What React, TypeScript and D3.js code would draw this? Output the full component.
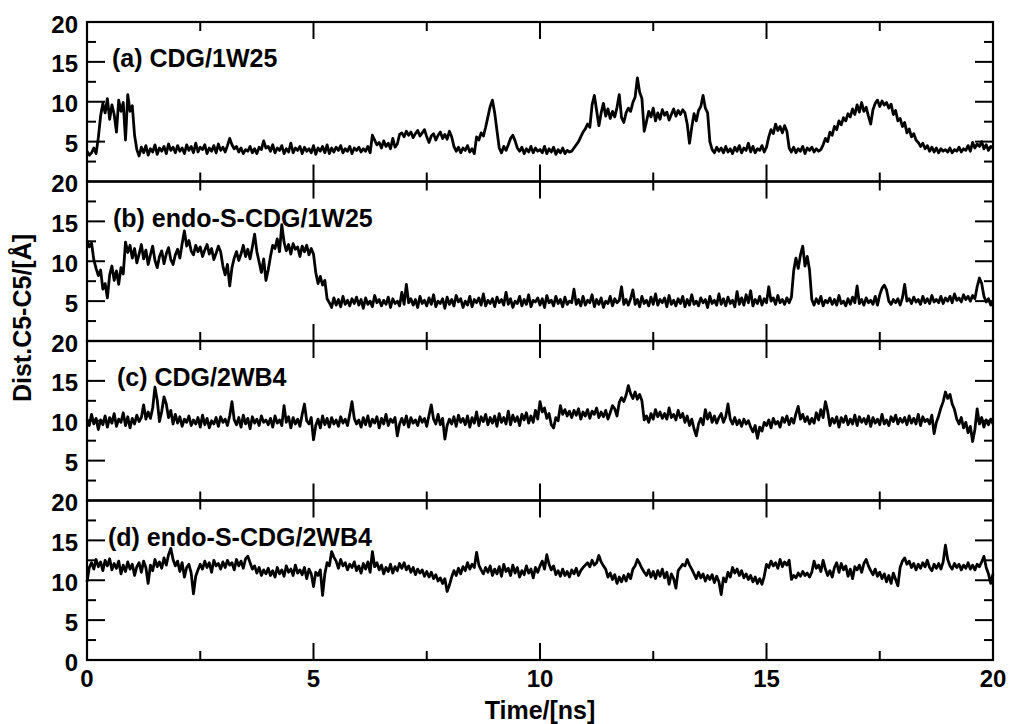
import React from "react";
import * as d3 from "d3";

// Sampling step in ns (each value below is one sample)
const STEP = 0.05;

const panelLabels = ["(a) CDG/1W25", "(b) endo-S-CDG/1W25", "(c) CDG/2WB4", "(d) endo-S-CDG/2WB4"];
const xTicksMajor = [0, 5, 10, 15, 20];
const xTicksMinor = [2.5, 7.5, 12.5, 17.5];
const yTicksMajor = [5, 10, 15];
const yTicksMinor = [2.5, 7.5, 12.5, 17.5];
const yTickLabels = [0, 5, 10, 15, 20];

const seriesA = [
  3.8, 3.3, 3.6, 4.2, 3.5, 5.5, 8.2, 9.8, 8.6, 10.4, 7.8, 9.6, 8.4, 6.2, 10.2, 8.8, 9.9, 5.2, 10.9, 8.8,
  9.5, 5.8, 4.0, 3.2, 4.3, 3.6, 4.5, 3.3, 4.1, 3.7, 4.6, 3.4, 4.2, 3.8, 4.4, 3.5, 4.7, 3.9, 4.3, 3.6,
  4.5, 3.8, 4.2, 3.5, 4.6, 3.9, 4.4, 3.6, 4.8, 3.7, 4.3, 4.0, 4.6, 3.5, 4.2, 3.8, 4.5, 3.6, 4.7, 3.9,
  4.3, 3.7, 4.5, 5.4, 4.6, 4.1, 4.4, 3.7, 4.2, 3.5, 4.0, 3.8, 4.4, 3.6, 4.1, 3.5, 4.3, 4.0, 5.1, 4.2,
  4.4, 3.8, 4.6, 3.6, 4.2, 3.9, 4.5, 3.5, 4.1, 3.7, 4.8, 3.6, 4.2, 3.9, 4.4, 3.5, 4.3, 3.8, 4.1, 3.6,
  4.5, 3.4, 4.2, 3.8, 4.4, 3.6, 4.6, 3.5, 4.2, 3.7, 4.3, 3.9, 4.5, 3.6, 4.1, 3.8, 4.4, 3.5, 4.2, 3.9,
  4.3, 3.7, 4.1, 3.8, 4.4, 3.6, 5.8, 5.2, 4.6, 4.9, 4.2, 5.1, 4.4, 4.8, 4.1, 5.4, 4.3, 4.7, 5.9, 6.1,
  5.6, 6.3, 5.8, 6.2, 5.5, 6.0, 6.4, 5.7, 6.1, 6.5, 5.6, 4.9, 5.7, 6.0, 5.2, 5.8, 6.2, 5.4, 5.9, 5.3,
  6.3, 5.6, 4.4, 3.8, 4.3, 3.6, 4.2, 3.9, 4.5, 3.7, 4.1, 3.5, 5.6, 5.2, 6.1, 5.7, 6.8, 8.1, 9.4, 10.2,
  8.6, 6.4, 4.2, 3.6, 4.4, 3.9, 4.6, 5.4, 5.8, 5.1, 4.2, 3.8, 4.3, 3.5, 4.1, 3.7, 4.4, 3.6, 4.2, 3.8,
  4.0, 3.6, 4.4, 3.5, 4.1, 3.7, 4.3, 3.4, 4.0, 3.6, 4.2, 3.5, 3.9, 3.7, 3.8, 4.2, 4.6, 5.0, 5.6, 6.2,
  6.6, 7.2, 6.8, 9.6, 10.8, 8.9, 7.0, 8.6, 9.8, 8.2, 9.1, 7.9, 8.8, 8.1, 9.3, 10.9, 8.0, 7.4, 8.6, 9.2,
  8.8, 9.9, 10.6, 13.0, 11.2, 10.4, 6.3, 7.5, 8.8, 8.1, 9.2, 7.6, 8.6, 7.8, 9.0, 8.3, 8.7, 7.7, 8.4, 9.1,
  8.2, 8.9, 8.4, 9.0, 8.6, 7.2, 4.8, 6.8, 8.5, 7.6, 8.9, 9.4, 10.8, 9.2, 8.6, 5.0, 4.0, 3.6, 4.3, 3.8,
  4.2, 3.6, 4.4, 3.7, 4.1, 3.5, 4.3, 3.8, 4.5, 3.6, 4.2, 3.9, 4.8, 3.7, 4.4, 3.6, 4.1, 3.9, 4.5, 3.7,
  4.3, 5.6, 6.5, 6.0, 7.2, 6.4, 6.9, 6.1, 7.0, 6.3, 4.2, 3.7, 4.3, 3.6, 4.1, 3.8, 4.4, 3.5, 4.2, 3.9,
  4.3, 3.7, 4.1, 3.8, 4.0, 4.6, 5.4, 5.0, 6.2, 5.8, 6.9, 6.5, 7.6, 7.1, 8.0, 7.6, 8.5, 8.1, 9.1, 8.4,
  9.6, 8.7, 9.9, 8.8, 9.3, 8.2, 7.2, 9.0, 9.8, 10.2, 9.4, 10.1, 9.6, 9.9, 9.2, 9.7, 8.4, 8.9, 7.6, 7.9,
  6.9, 7.4, 6.1, 6.6, 5.6, 6.0, 5.2, 4.9, 4.4, 4.8, 4.1, 4.5, 3.8, 4.3, 3.7, 4.2, 3.6, 4.1, 3.8, 4.0,
  3.7, 4.2, 3.6, 4.0, 3.8, 4.3, 3.7, 4.1, 3.9, 4.5, 3.8, 4.9, 4.2, 4.7, 4.4, 5.0, 4.1, 4.6, 3.9, 4.4,
  4.2,
];

const seriesB = [
  12.6, 11.8, 12.3, 10.2, 9.1, 8.2, 8.9, 6.5, 7.2, 5.4, 8.3, 9.4, 7.6, 8.8, 7.1, 9.2, 8.4, 12.4, 11.1, 12.0,
  10.4, 11.6, 9.8, 10.9, 12.1, 10.3, 11.4, 9.6, 10.8, 11.9, 10.1, 9.2, 10.6, 11.3, 9.7, 10.9, 11.7, 10.2, 9.6, 10.8,
  11.5, 10.4, 12.2, 13.8, 11.9, 12.6, 11.3, 10.8, 12.0, 11.2, 11.8, 10.6, 11.4, 12.1, 10.9, 11.6, 10.2, 11.0, 11.9, 11.2,
  9.4, 8.3, 9.6, 6.9, 9.2, 10.4, 11.2, 10.1, 10.9, 12.0, 10.6, 11.5, 10.3, 11.8, 13.4, 11.2, 9.9, 8.6, 10.3, 7.6,
  8.9, 10.6, 12.0, 11.6, 12.8, 11.2, 14.6, 12.4, 11.3, 12.1, 10.9, 12.2, 11.5, 11.8, 10.6, 11.9, 11.2, 12.0, 10.8, 11.6,
  10.9, 8.6, 7.2, 8.1, 7.0, 7.6, 5.3, 4.8, 4.2, 5.4, 4.5, 5.2, 4.3, 5.6, 4.6, 5.1, 4.4, 5.3, 4.7, 5.5,
  4.5, 5.2, 4.1, 5.4, 4.6, 5.0, 4.3, 5.7, 4.8, 5.2, 4.4, 5.1, 4.6, 5.5, 4.2, 5.3, 4.7, 5.0, 4.4, 6.1,
  4.6, 7.1, 4.8, 5.3, 4.5, 5.2, 4.2, 5.6, 4.7, 5.1, 4.4, 5.4, 4.6, 5.8, 4.3, 5.0, 4.7, 5.3, 4.1, 5.5,
  4.6, 5.2, 4.4, 5.7, 4.9, 5.3, 4.2, 5.0, 4.5, 5.6, 4.3, 5.2, 4.8, 5.4, 4.5, 5.9, 4.4, 5.1, 4.7, 5.3,
  4.3, 5.5, 4.8, 5.2, 4.5, 6.1, 4.6, 5.3, 4.2, 5.0, 4.7, 5.6, 4.4, 5.2, 4.6, 5.8, 4.3, 5.1, 4.9, 5.4,
  4.5, 5.3, 4.2, 5.7, 4.8, 5.1, 4.4, 5.6, 4.7, 5.2, 4.3, 5.5, 4.6, 5.0, 4.8, 6.5, 4.6, 5.2, 4.4, 5.6,
  4.5, 5.1, 4.8, 5.8, 4.3, 5.2, 4.6, 5.4, 4.2, 5.0, 4.7, 5.6, 4.4, 5.3, 4.8, 5.1, 6.8, 4.6, 5.2, 4.5,
  5.3, 6.4, 4.6, 5.2, 4.3, 5.6, 4.7, 5.1, 4.4, 5.5, 4.6, 5.9, 4.5, 5.2, 4.8, 5.4, 4.3, 5.7, 4.6, 5.1,
  4.4, 5.3, 4.7, 5.6, 4.3, 5.2, 4.5, 5.8, 4.6, 5.0, 4.4, 5.4, 4.8, 5.2, 4.2, 5.6, 4.7, 5.1, 4.5, 5.9,
  4.6, 5.3, 4.4, 5.5, 4.7, 5.1, 4.3, 6.2, 4.6, 5.4, 4.5, 5.8, 4.8, 6.3, 4.4, 5.2, 4.7, 5.6, 4.5, 5.3,
  4.8, 6.8, 5.0, 5.4, 4.6, 5.7, 4.8, 5.2, 4.6, 5.4, 4.8, 5.5, 8.8, 10.4, 9.1, 10.8, 11.9, 9.4, 10.6, 8.9,
  5.2, 4.5, 5.3, 4.7, 5.6, 4.4, 5.1, 4.8, 5.4, 4.6, 5.2, 4.5, 5.7, 4.7, 5.0, 4.4, 5.3, 4.6, 5.5, 4.8,
  6.9, 4.7, 5.2, 4.5, 5.4, 4.8, 5.1, 4.6, 5.6, 4.5, 5.8, 6.6, 7.0, 6.4, 5.0, 4.6, 5.2, 4.8, 5.3, 4.5,
  5.4, 7.1, 5.0, 5.3, 4.7, 5.5, 4.9, 5.2, 4.6, 5.6, 4.8, 5.3, 4.7, 5.7, 4.9, 5.2, 4.8, 5.6, 4.7, 5.4,
  5.0, 5.6, 4.8, 5.9, 5.1, 5.4, 4.9, 5.8, 5.2, 5.6, 5.0, 5.7, 5.3, 6.8, 7.9, 7.2, 5.6, 4.9, 5.3, 4.5,
  5.0,
];

const seriesC = [
  10.2, 9.4, 10.8, 9.6, 10.3, 8.9, 10.1, 9.5, 10.6, 9.2, 10.4, 9.7, 10.9, 9.3, 10.2, 9.8, 11.0, 9.4, 10.5, 9.1,
  10.3, 9.6, 10.7, 9.9, 10.4, 12.0, 10.2, 11.1, 10.3, 11.6, 14.2, 12.6, 9.9, 11.2, 13.0, 12.1, 10.4, 11.3, 9.6, 10.8,
  9.7, 10.5, 9.3, 10.2, 9.8, 10.6, 9.4, 10.1, 9.6, 10.4, 9.2, 10.7, 9.5, 10.3, 9.1, 10.0, 9.6, 10.4, 9.3, 10.5,
  9.8, 10.2, 9.4, 10.6, 12.4, 10.1, 9.5, 10.4, 9.2, 10.7, 9.6, 10.3, 9.0, 10.5, 9.7, 10.2, 9.4, 10.6, 9.8, 10.1,
  9.5, 10.3, 9.2, 10.6, 9.7, 10.1, 9.4, 11.9, 9.8, 10.5, 9.1, 10.4, 9.6, 10.2, 9.3, 10.8, 12.1, 10.0, 9.6, 10.4,
  7.6, 9.4, 10.2, 9.1, 10.6, 9.5, 10.3, 9.2, 10.4, 9.6, 10.1, 9.3, 10.5, 9.7, 10.2, 9.4, 10.8, 12.4, 10.3, 9.6,
  10.1, 9.2, 10.4, 9.5, 10.6, 9.3, 10.2, 9.7, 10.5, 9.1, 10.3, 9.6, 10.8, 9.4, 10.2, 9.8, 10.4, 8.1, 9.6, 10.3,
  9.5, 10.6, 9.2, 10.4, 9.7, 10.1, 9.4, 10.5, 9.8, 10.3, 9.3, 10.7, 12.0, 10.2, 9.6, 10.8, 9.5, 10.3, 7.7, 9.4,
  10.2, 9.6, 10.5, 9.3, 10.7, 9.8, 10.3, 9.5, 10.6, 9.2, 10.4, 9.7, 11.1, 9.4, 10.5, 9.9, 10.8, 9.5, 10.4, 9.7,
  10.6, 9.3, 10.9, 9.8, 10.4, 9.6, 11.2, 9.5, 10.7, 9.9, 10.5, 9.4, 10.8, 10.1, 11.0, 9.7, 10.6, 9.8, 11.3, 10.2,
  12.4, 11.1, 11.6, 10.3, 10.9, 9.5, 9.1, 10.4, 10.0, 11.9, 10.8, 11.4, 10.6, 11.2, 10.4, 11.3, 10.7, 11.5, 10.2, 11.1,
  10.6, 11.4, 10.3, 11.2, 10.8, 11.6, 10.4, 11.1, 10.5, 11.3, 10.2, 11.0, 11.9, 11.5, 10.6, 12.3, 12.9, 12.4, 13.2, 14.4,
  13.4, 12.8, 13.6, 12.7, 13.3, 12.5, 10.1, 10.6, 9.8, 10.9, 10.2, 11.4, 10.5, 11.1, 10.3, 10.9, 10.2, 11.6, 10.4, 10.8,
  10.1, 11.3, 10.4, 10.9, 9.8, 10.6, 9.4, 10.2, 9.0, 8.1, 9.6, 10.3, 9.5, 11.4, 10.2, 11.0, 9.8, 10.6, 9.7, 10.4,
  10.9, 9.8, 10.5, 12.1, 10.2, 9.6, 10.4, 9.5, 10.1, 9.3, 10.2, 9.6, 10.0, 9.2, 8.6, 9.4, 7.8, 9.2, 8.7, 9.8,
  9.4, 10.1, 9.1, 10.3, 9.6, 9.9, 9.2, 10.4, 9.8, 10.6, 9.5, 10.3, 9.7, 10.9, 11.8, 10.2, 10.8, 9.9, 10.5, 9.6,
  10.3, 9.7, 11.0, 10.1, 11.4, 10.4, 12.4, 11.2, 9.4, 10.3, 9.7, 10.5, 9.2, 10.4, 9.8, 10.6, 9.5, 10.2, 9.6, 10.7,
  9.4, 10.5, 9.8, 10.3, 9.6, 10.6, 9.3, 10.4, 9.7, 10.2, 9.5, 10.8, 9.6, 10.1, 9.4, 10.5, 9.9, 10.7, 9.6, 10.3,
  9.8, 10.4, 9.5, 10.6, 9.7, 10.3, 9.6, 10.8, 9.4, 10.5, 9.9, 10.2, 9.6, 10.7, 8.4, 9.8, 10.6, 11.6, 12.4, 13.6,
  12.8, 13.3, 12.1, 11.4, 10.2, 9.6, 10.4, 9.1, 9.8, 8.5, 9.3, 7.4, 8.9, 11.5, 9.6, 10.4, 9.2, 10.1, 9.5, 10.2,
  9.6,
];

const seriesD = [
  9.8, 11.6, 12.2, 11.4, 12.6, 11.7, 12.3, 11.2, 12.5, 11.8, 12.7, 11.3, 12.1, 11.5, 12.4, 10.8, 11.9, 11.1, 12.3, 11.4,
  12.0, 10.6, 11.7, 12.2, 11.0, 12.4, 11.6, 9.6, 11.9, 11.2, 12.6, 11.7, 12.3, 11.5, 12.8, 11.9, 13.2, 14.0, 12.6, 11.8,
  12.4, 11.1, 12.2, 10.4, 11.6, 12.0, 10.9, 8.3, 10.5, 11.3, 12.0, 11.4, 12.4, 11.6, 12.2, 11.0, 12.5, 11.8, 12.1, 11.4,
  12.3, 11.6, 12.5, 11.9, 12.2, 11.3, 12.6, 11.8, 12.4, 11.5, 12.7, 13.0, 12.2, 11.4, 11.8, 10.9, 11.6, 10.6, 11.3, 10.8,
  11.5, 10.6, 11.2, 10.4, 11.6, 10.8, 11.3, 10.5, 11.8, 11.0, 11.4, 10.6, 11.9, 10.9, 11.3, 10.7, 11.6, 10.2, 11.4, 10.8,
  9.2, 11.0, 10.6, 11.3, 8.1, 10.8, 12.2, 11.8, 13.6, 12.9, 12.4, 11.5, 12.6, 11.8, 12.2, 11.3, 12.0, 11.6, 12.3, 11.2,
  11.8, 10.9, 12.1, 11.4, 12.3, 11.0, 13.6, 11.7, 12.2, 11.3, 11.9, 10.8, 11.6, 11.1, 12.0, 10.9, 11.7, 11.2, 12.1, 11.5,
  12.2, 11.3, 11.8, 11.0, 11.6, 10.7, 11.4, 10.9, 11.3, 10.5, 11.1, 10.4, 11.0, 10.2, 10.7, 9.9, 10.3, 9.6, 10.2, 8.6,
  9.4, 10.4, 11.2, 10.6, 11.5, 10.8, 11.7, 11.2, 12.2, 11.4, 12.0, 11.6, 13.5, 11.9, 11.3, 10.8, 11.6, 11.0, 11.8, 10.6,
  11.4, 10.8, 11.7, 10.5, 12.0, 11.1, 11.5, 10.6, 11.9, 10.9, 11.6, 10.4, 11.2, 10.7, 11.8, 10.9, 11.4, 10.3, 11.6, 11.0,
  11.8, 12.4, 11.4, 13.2, 12.0, 11.3, 11.8, 10.7, 11.2, 10.5, 11.4, 10.6, 11.1, 10.4, 11.3, 10.8, 11.5, 10.6, 11.2, 11.6,
  11.9, 12.2, 11.7, 12.5, 11.9, 12.2, 13.1, 12.3, 11.8, 11.4, 10.4, 10.9, 10.1, 10.7, 9.6, 10.4, 9.8, 10.6, 9.9, 10.8,
  10.2, 11.4, 11.8, 12.6, 12.1, 11.5, 11.0, 10.6, 11.3, 10.4, 11.1, 10.2, 11.2, 10.5, 11.4, 10.3, 11.0, 9.5, 10.8, 10.2,
  9.0, 11.2, 11.6, 12.0, 11.8, 12.6, 11.9, 11.4, 10.8, 10.2, 11.0, 10.3, 10.8, 9.9, 10.6, 10.1, 10.7, 9.7, 10.5, 9.8,
  8.2, 10.3, 9.8, 11.0, 10.4, 11.6, 10.9, 11.4, 10.6, 11.2, 10.3, 10.8, 10.1, 10.6, 9.8, 10.4, 9.6, 10.2, 9.5, 10.5,
  12.0, 11.6, 12.4, 11.8, 12.2, 11.5, 12.6, 11.7, 12.3, 11.9, 12.5, 10.1, 10.6, 10.3, 10.9, 10.5, 11.1, 10.6, 10.9, 10.4,
  11.0, 12.4, 11.5, 11.9, 11.1, 12.5, 11.4, 10.6, 11.2, 10.4, 11.6, 12.2, 11.0, 12.1, 11.3, 11.8, 10.5, 11.4, 10.2, 11.7,
  11.3, 11.9, 11.0, 12.1, 12.6, 11.8, 11.2, 10.7, 11.4, 10.5, 11.0, 10.2, 10.8, 9.8, 10.6, 9.6, 10.9, 10.1, 9.3, 11.6,
  12.4, 12.8, 12.0, 12.4, 11.6, 12.1, 11.3, 12.0, 11.5, 12.2, 11.7, 12.5, 11.6, 11.2, 12.0, 11.5, 12.1, 11.4, 12.3, 14.4,
  12.6, 11.8, 11.4, 12.1, 11.6, 12.0, 11.3, 11.9, 11.5, 12.2, 11.4, 11.9, 11.3, 12.0, 11.7, 12.3, 13.0, 11.6, 10.8, 9.6,
  10.8,
];

const allSeries = [seriesA, seriesB, seriesC, seriesD];

// layout
const W = 1013;
const H = 724;
const LEFT = 87;
const RIGHT = 993;
const TOP = 22;
const BOTTOM = 660;
const labelXs = [112, 113, 117, 108];
const FONT = "'Liberation Sans', Arial, Helvetica, sans-serif";

export default function App() {
  const x = d3.scaleLinear().domain([0, 20]).range([LEFT, RIGHT]);
  const ph = (BOTTOM - TOP) / 4;
  const panels = allSeries.map((s, i) => {
    const top = TOP + i * ph;
    const y = d3.scaleLinear().domain([0, 20]).range([top + ph, top]);
    const line = d3
      .line<number>()
      .x((_, j) => x(j * STEP))
      .y((v) => y(v));
    return { s, i, top, y, path: line(s) || "" };
  });

  const txt = (props: any, content: string, key: string) => (
    <text key={key} {...props} fontFamily={FONT} fontWeight="bold" fill="#000">
      {content}
    </text>
  );

  return (
    <svg
      width={W}
      height={H}
      style={{ position: "absolute", left: 0, top: 0, background: "#fff" }}
    >
      <rect x={0} y={0} width={W} height={H} fill="#fff" />
      {panels.map(({ s, i, top, y, path }) => (
        <g key={i}>
          <path d={path} fill="none" stroke="#000" strokeWidth={2.8} strokeLinejoin="round" />
          {/* frame */}
          <rect x={LEFT} y={top} width={RIGHT - LEFT} height={ph} fill="none" stroke="#000" strokeWidth={2.2} />
          {/* x ticks top and bottom */}
          {xTicksMajor.slice(1, -1).map((t) => (
            <g key={"xm" + t}>
              <line x1={x(t)} x2={x(t)} y1={top} y2={top + 17} stroke="#000" strokeWidth={2} />
              <line x1={x(t)} x2={x(t)} y1={top + ph} y2={top + ph - 17} stroke="#000" strokeWidth={2} />
            </g>
          ))}
          {xTicksMinor.map((t) => (
            <g key={"xn" + t}>
              <line x1={x(t)} x2={x(t)} y1={top} y2={top + 9} stroke="#000" strokeWidth={2} />
              <line x1={x(t)} x2={x(t)} y1={top + ph} y2={top + ph - 9} stroke="#000" strokeWidth={2} />
            </g>
          ))}
          {/* y ticks left and right */}
          {yTicksMajor.map((t) => (
            <g key={"ym" + t}>
              <line x1={LEFT} x2={LEFT + 18} y1={y(t)} y2={y(t)} stroke="#000" strokeWidth={2} />
              <line x1={RIGHT} x2={RIGHT - 18} y1={y(t)} y2={y(t)} stroke="#000" strokeWidth={2} />
            </g>
          ))}
          {yTicksMinor.map((t) => (
            <g key={"yn" + t}>
              <line x1={LEFT} x2={LEFT + 9} y1={y(t)} y2={y(t)} stroke="#000" strokeWidth={2} />
              <line x1={RIGHT} x2={RIGHT - 9} y1={y(t)} y2={y(t)} stroke="#000" strokeWidth={2} />
            </g>
          ))}
          {/* y tick labels */}
          {yTickLabels
            .filter((t) => t !== 0 || i === 3)
            .map((t) =>
              txt(
                {
                  x: 78,
                  y: y(t) + 10.5,
                  textAnchor: "end",
                  fontSize: 24,
                },
                String(t),
                "yl" + t
              )
            )}
          {/* panel label */}
          {txt({ x: labelXs[i], y: top + 45, fontSize: 25 }, panelLabels[i], "pl")}
        </g>
      ))}
      {/* x tick labels */}
      {xTicksMajor.map((t) =>
        txt({ x: x(t), y: 687, textAnchor: "middle", fontSize: 24 }, String(t), "xl" + t)
      )}
      {txt({ x: (LEFT + RIGHT) / 2, y: 719, textAnchor: "middle", fontSize: 25 }, "Time/[ns]", "xt")}
      {txt(
        {
          x: 0,
          y: 0,
          textAnchor: "middle",
          fontSize: 25,
          transform: `translate(31,318) rotate(-90)`,
        },
        "Dist.C5-C5/[Å]",
        "yt"
      )}
    </svg>
  );
}
